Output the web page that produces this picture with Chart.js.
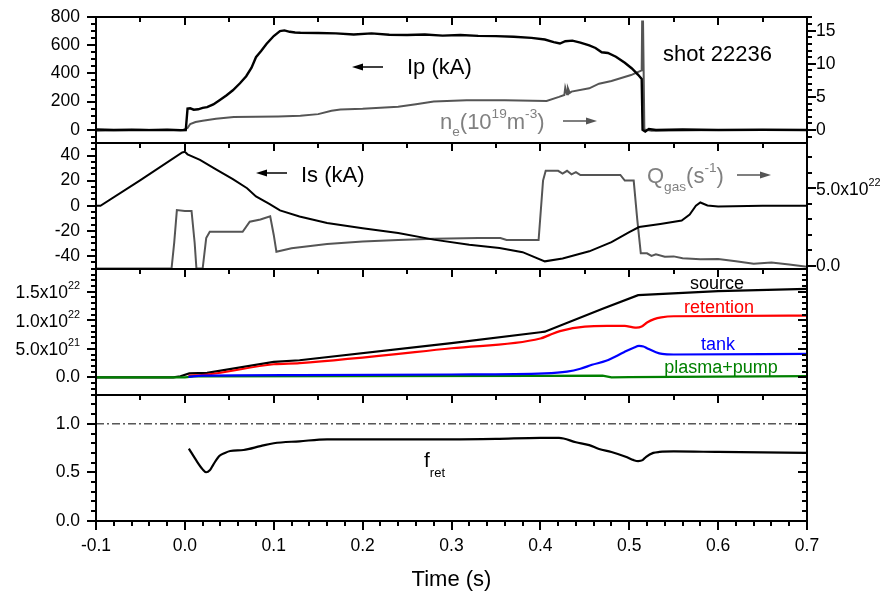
<!DOCTYPE html>
<html>
<head>
<meta charset="utf-8">
<script src="https://cdn.jsdelivr.net/npm/chart.js@4.4.0/dist/chart.umd.min.js"></script>
<style>
  body { margin: 0; background: #fff; }
  #wrap { position: relative; width: 889px; height: 598px; }
  #wrap canvas { position: absolute; left: 0; top: 0; }
</style>
</head>
<body>
<div id="wrap">
  <canvas id="p1" width="889" height="598"></canvas>
  <canvas id="p2" width="889" height="598"></canvas>
  <canvas id="p3" width="889" height="598"></canvas>
  <canvas id="p4" width="889" height="598"></canvas>
  <canvas id="ov" width="889" height="598"></canvas>
</div>
<script>
// ---- panel 1: plasma current Ip (kA) and density ne (1e19 m^-3)
const ipT = [-0.1, -0.08, -0.06, -0.04, -0.02, -0.005, 0.001, 0.003, 0.006, 0.01, 0.015, 0.02, 0.025,
  0.032, 0.039, 0.047, 0.054, 0.062, 0.069, 0.075, 0.08, 0.086, 0.092, 0.1, 0.107, 0.112, 0.118, 0.124, 0.13,
  0.15, 0.17, 0.19, 0.21, 0.23, 0.25, 0.27, 0.29, 0.31, 0.33, 0.35, 0.37, 0.39,
  0.405, 0.415, 0.422, 0.428, 0.436, 0.445, 0.455, 0.462, 0.469, 0.476,
  0.485, 0.495, 0.503, 0.51, 0.514, 0.515, 0.518, 0.522, 0.53, 0.56, 0.6, 0.65, 0.7];
const ipV = [2, -2, 0, -3, 0, -4, -3, 150, 152, 142, 145, 155, 160,
  180, 210, 245, 280, 330, 380, 440, 515, 560, 610, 665, 700, 705, 695, 690, 688,
  686, 684, 676, 684, 674, 672, 676, 668, 672, 666, 664, 660, 652,
  640, 622, 612, 628, 632, 618, 598, 580, 550, 545,
  518, 475, 435, 390, 360, 0, -12, 5, -2, 2, -2, 0, -2];

const neT = [-0.1, -0.05, -0.002, 0.003, 0.006, 0.012, 0.02, 0.035, 0.055, 0.08, 0.105, 0.13, 0.15, 0.165, 0.175,
  0.2, 0.24, 0.26, 0.28, 0.317, 0.36, 0.407, 0.421, 0.427, 0.428, 0.43, 0.431, 0.433, 0.435, 0.455,
  0.466, 0.48, 0.502, 0.514, 0.5145, 0.5155, 0.517, 0.525, 0.6, 0.7];
const neV = [-0.1, 0.05, 0, 0.3, 0.9, 1.2, 1.4, 1.7, 1.95, 2.0, 2.05, 2.15, 2.4, 2.9, 3.1,
  3.2, 3.5, 3.9, 4.3, 4.5, 4.5, 4.4, 5.0, 5.3, 6.4, 5.4, 6.3, 5.6, 5.8, 6.3,
  7.0, 7.4, 8.3, 9.0, 16.4, 16.4, 0.1, -0.1, 0, 0];

// ---- panel 2: Is (kA) and gas flow Qgas (1e22 s^-1)
const isT = [-0.1, -0.095, -0.05, -0.003, 0.0, 0.003, 0.017, 0.035, 0.054, 0.07, 0.08, 0.095, 0.107, 0.129, 0.16,
  0.2, 0.24, 0.28, 0.32, 0.354, 0.38, 0.405, 0.425, 0.455, 0.48, 0.5, 0.511, 0.535, 0.559, 0.568,
  0.575, 0.58, 0.588, 0.6, 0.65, 0.7];
const isV = [0, 0, 20.4, 42.5, 43, 41, 36.6, 29, 21.2, 14, 7.4, 1.5, -3.7, -8.5, -13.8,
  -18, -21.7, -27, -31, -33.6, -37, -44.3, -42, -36.3, -29, -21, -17, -14.5, -11.7, -7,
  0, 2.6, 0.2, -0.5, 0, 0];

const qgasT = [-0.1, -0.015, -0.012, -0.009, 0.0, 0.0075, 0.011, 0.013, 0.02, 0.024,
  0.028, 0.065, 0.073, 0.085, 0.096, 0.1, 0.103, 0.12, 0.16, 0.2,
  0.24, 0.28, 0.33, 0.355, 0.362, 0.398, 0.403, 0.406, 0.42, 0.425,
  0.43, 0.435, 0.44, 0.445, 0.46, 0.49, 0.495, 0.505, 0.509, 0.513,
  0.52, 0.525, 0.53, 0.54, 0.55, 0.56, 0.58, 0.6, 0.62, 0.64, 0.66, 0.68, 0.7];
const qgasV = [-0.16, -0.16, 1.5, 3.6, 3.55, 3.55, 1.5, -0.16, -0.16, 1.8,
  2.2, 2.2, 2.85, 3.0, 3.2, 2.0, 0.92, 1.15, 1.42, 1.58,
  1.67, 1.75, 1.8, 1.8, 1.67, 1.67, 5.5, 6.13, 6.13, 5.95,
  6.13, 5.9, 6.05, 5.86, 5.86, 5.86, 5.5, 5.5, 3.0, 0.82,
  0.82, 0.65, 0.75, 0.6, 0.62, 0.5, 0.43, 0.45, 0.3, 0.15, 0.22, 0.1, -0.04];

// ---- panel 3: particle balance (1e22)
const srcT = [-0.1, -0.013, -0.005, 0.005, 0.025, 0.1, 0.129, 0.3, 0.4, 0.405, 0.47, 0.51, 0.6, 0.7];
const srcV = [0, 0, 0.02, 0.07, 0.08, 0.27, 0.3, 0.6, 0.79, 0.8, 1.2, 1.44, 1.51, 1.55];
const retT = [0.004, 0.025, 0.1, 0.129, 0.3, 0.4, 0.41, 0.422, 0.45, 0.475, 0.495, 0.503, 0.508, 0.514, 0.52, 0.528, 0.536, 0.55, 0.7];
const retV = [0.03, 0.05, 0.23, 0.25, 0.51, 0.68, 0.74, 0.81, 0.89, 0.9, 0.9, 0.88, 0.87, 0.89, 0.96, 1.02, 1.05, 1.07, 1.08];
const tankT = [0.004, 0.02, 0.129, 0.3, 0.405, 0.43, 0.445, 0.458, 0.474, 0.494, 0.505, 0.511, 0.516, 0.52, 0.53, 0.537, 0.55, 0.7];
const tankV = [0.01, 0.03, 0.04, 0.05, 0.07, 0.1, 0.15, 0.22, 0.29, 0.44, 0.52, 0.55, 0.54, 0.51, 0.44, 0.41, 0.40, 0.41];
const ppT = [-0.1, 0.0, 0.01, 0.2, 0.4, 0.47, 0.48, 0.5, 0.7];
const ppV = [0, 0, 0.015, 0.02, 0.025, 0.03, 0.0, 0.005, 0.02];

// ---- panel 4: retention fraction
const fretT = [0.0045, 0.013, 0.02, 0.024, 0.028, 0.032, 0.039, 0.045, 0.051, 0.066, 0.085, 0.1, 0.129, 0.16, 0.2, 0.24,
  0.3, 0.35, 0.4, 0.421, 0.44, 0.455, 0.466, 0.48, 0.496, 0.505, 0.51, 0.515, 0.519, 0.527, 0.534, 0.55, 0.6, 0.7];
const fretV = [0.744, 0.62, 0.53, 0.5, 0.52, 0.58, 0.67, 0.7, 0.72, 0.73, 0.77, 0.8, 0.82, 0.84, 0.84, 0.84,
  0.84, 0.845, 0.855, 0.855, 0.81, 0.78, 0.74, 0.71, 0.66, 0.625, 0.615, 0.625, 0.66, 0.7, 0.71, 0.715, 0.71, 0.7];
const fretRef = 1.0;

// ---- axes
const xTicks = [-0.1, 0, 0.1, 0.2, 0.3, 0.4, 0.5, 0.6, 0.7];
const xLabels = ['-0.1', '0.0', '0.1', '0.2', '0.3', '0.4', '0.5', '0.6', '0.7'];
const p1Ticks = [0, 200, 400, 600, 800];
const p1Labels = ['0', '200', '400', '600', '800'];
const p1RTicks = [0, 5, 10, 15];
const p1RLabels = ['0', '5', '10', '15'];
const p2Ticks = [-40, -20, 0, 20, 40];
const p2Labels = ['-40', '-20', '0', '20', '40'];
const p2RTicks = [0, 5];
const p2RLabels = ['0.0', '5.0x10^22'];
const p3Ticks = [0, 0.5, 1.0, 1.5];
const p3Labels = ['0.0', '5.0x10^21', '1.0x10^22', '1.5x10^22'];
const p4Ticks = [0, 0.5, 1.0];
const p4Labels = ['0.0', '0.5', '1.0'];

const FONT = '"Liberation Sans", Arial, Helvetica, sans-serif';
const TICK_SIZE = 17.5;
const GRAY_LINE = '#555555';
const GRAY_TEXT = '#808080';
const X_MIN = -0.1, X_MAX = 0.7;

const pts = (t, v) => t.map((x, i) => ({x, y: v[i]}));

function stepVals(min, max, step) {
  const out = [];
  for (let k = Math.ceil(min / step - 1e-6); k * step <= max + 1e-9; k++) out.push(k * step);
  return out;
}

// text with sub/superscripts: parts = [[text, kind, shift?]] kind 1 sup, -1 sub
function drawRich(ctx, parts, x, y, size, color, align) {
  const small = size * 0.62;
  const fontOf = k => (k ? small : size) + 'px ' + FONT;
  let w = 0;
  parts.forEach(([t, k]) => { ctx.font = fontOf(k); w += ctx.measureText(t).width; });
  let cx = align === 'right' ? x - w : align === 'center' ? x - w / 2 : x;
  ctx.fillStyle = color;
  ctx.textAlign = 'left';
  ctx.textBaseline = 'alphabetic';
  parts.forEach(([t, k, sh]) => {
    ctx.font = fontOf(k);
    const dy = sh !== undefined ? sh : (k > 0 ? -size * 0.5 : k < 0 ? size * 0.34 : 0);
    ctx.fillText(t, cx, y + dy);
    cx += ctx.measureText(t).width;
  });
}

function arrow(ctx, x1, y, x2, color) {
  const dir = Math.sign(x2 - x1);
  ctx.strokeStyle = color; ctx.fillStyle = color; ctx.lineWidth = 1.5;
  ctx.beginPath(); ctx.moveTo(x1, y); ctx.lineTo(x2 - dir * 8, y); ctx.stroke();
  ctx.beginPath(); ctx.moveTo(x2, y); ctx.lineTo(x2 - dir * 11, y - 3.5); ctx.lineTo(x2 - dir * 11, y + 3.5);
  ctx.closePath(); ctx.fill();
}

// frame, tick marks and annotations, drawn on the overlay from each chart's scales
function drawFrame(ctx, chart, o) {
  const a = chart.chartArea, scales = chart.scales;
  const x = scales.x, y = scales.y, y2 = scales.y2;
  ctx.save();
  ctx.fillStyle = '#000';
  // ticks as filled 2px bars, len > 0 points down / right
  const hT = (vals, edge, len) => vals.forEach(v => {
    const px = Math.round(x.getPixelForValue(v));
    if (Number.isFinite(px)) ctx.fillRect(px - 1, len > 0 ? edge : edge + len, 2, Math.abs(len));
  });
  const vT = (s, vals, edge, len) => vals.forEach(v => {
    const py = Math.round(s.getPixelForValue(v));
    if (Number.isFinite(py)) ctx.fillRect(len > 0 ? edge : edge + len, py - 1, Math.abs(len), 2);
  });
  const L = Math.round(a.left), R = Math.round(a.right), T = Math.round(a.top), B = Math.round(a.bottom);
  hT(stepVals(X_MIN, X_MAX, 0.05), T, 5);
  hT(xTicks, T, 8);
  if (o.bottom) {
    hT(stepVals(X_MIN, X_MAX, 0.02), B, 5);
    hT(xTicks, B, 9);
  }
  const yMinor = stepVals(y.min, y.max, o.minor);
  vT(y, yMinor, L, -5);
  vT(y, o.major, L, -9);
  if (o.mirror) {
    vT(y, yMinor, R, -5);
    vT(y, o.major, R, -9);
  }
  if (y2) {
    vT(y2, stepVals(y2.min, y2.max, o.rMinor), R, 5);
    vT(y2, o.rMajor, R, 9);
  }
  // frame
  ctx.fillRect(L - 1, T - 1, R - L + 2, 2);
  ctx.fillRect(L - 1, B - 1, R - L + 2, 2);
  ctx.fillRect(L - 1, T - 1, 2, B - T + 2);
  ctx.fillRect(R - 1, T - 1, 2, B - T + 2);

  // tick labels carrying an exponent
  (o.rich || []).forEach(r => {
    const s = scales[r.scale];
    r.ticks.forEach((v, i) => {
      const lab = r.labels[i];
      if (!lab.includes('^')) return;
      const [base, exp] = lab.split('^');
      const py = s.getPixelForValue(v) + TICK_SIZE * 0.36;
      if (r.scale === 'y') drawRich(ctx, [[base, 0], [exp, 1]], a.left - 16, py, TICK_SIZE, '#000', 'right');
      else drawRich(ctx, [[base, 0], [exp, 1]], a.right + 9, py, TICK_SIZE, '#000', 'left');
    });
  });
  (o.notes || []).forEach(n => drawRich(ctx, n.parts, n.x, n.y, n.size, n.color, n.align));
  (o.arrows || []).forEach(ar => arrow(ctx, ar.x1, ar.y, ar.x2, ar.color));
  ctx.restore();
}

function noPad(s) { s.paddingTop = 0; s.paddingBottom = 0; s.paddingLeft = 0; s.paddingRight = 0; }

function yScale(pos, min, max, ticks, labels, width) {
  return {
    type: 'linear', position: pos, min, max,
    afterBuildTicks: s => { s.ticks = ticks.map(v => ({value: v})); },
    afterFit: s => { s.width = width; noPad(s); },
    grid: {display: false, drawTicks: false}, border: {display: false},
    ticks: {
      autoSkip: false, padding: pos === 'left' ? 16 : 9, color: '#000',
      font: {family: FONT, size: TICK_SIZE},
      callback: (v, i) => labels[i].includes('^') ? '' : labels[i]
    }
  };
}

const hiddenX = {type: 'linear', min: X_MIN, max: X_MAX, display: false};

function line(data, color, width, yAxisID, extra) {
  return Object.assign({data, borderColor: color, borderWidth: width, yAxisID: yAxisID || 'y',
    pointRadius: 0, tension: 0, fill: false}, extra || {});
}

function panel(id, padding, datasets, scales) {
  return new Chart(document.getElementById(id), {
    type: 'line',
    data: {datasets},
    options: {
      responsive: false, animation: false, devicePixelRatio: 1,
      layout: {padding},
      plugins: {legend: {display: false}, tooltip: {enabled: false}},
      scales
    }
  });
}

// Panel 1
const c1 = panel('p1', {top: 17, bottom: 455, left: 0, right: 0},
  [
    line(pts(ipT, ipV), '#000', 2.4, 'y', {order: 0}),
    line(pts(neT, neV), GRAY_LINE, 2, 'y2', {order: 1})
  ],
  {
    x: hiddenX,
    y: yScale('left', -94, 800, p1Ticks, p1Labels, 96),
    y2: yScale('right', -1.96, 17.07, p1RTicks, p1RLabels, 82)
  });

// Panel 2
const c2 = panel('p2', {top: 143, bottom: 329.5, left: 0, right: 0},
  [
    line(pts(isT, isV), '#000', 2, 'y', {order: 0}),
    line(pts(qgasT, qgasV), GRAY_LINE, 2, 'y2', {order: 1})
  ],
  {
    x: hiddenX,
    y: yScale('left', -50, 50, p2Ticks, p2Labels, 96),
    y2: yScale('right', -0.16, 7.92, p2RTicks, p2RLabels, 82)
  });

// Panel 3
const c3 = panel('p3', {top: 268.5, bottom: 203.5, left: 0, right: 82},
  [
    line(pts(tankT, tankV), '#0000ff', 2.2, 'y', {order: 0, cubicInterpolationMode: 'monotone'}),
    line(pts(ppT, ppV), '#008000', 2.2, 'y', {order: 1}),
    line(pts(retT, retV), '#ff0000', 2.2, 'y', {order: 2, cubicInterpolationMode: 'monotone'}),
    line(pts(srcT, srcV), '#000', 2.2, 'y', {order: 3})
  ],
  {
    x: hiddenX,
    y: yScale('left', -0.3, 1.906, p3Ticks, p3Labels, 96)
  });

// Panel 4
const c4 = panel('p4', {top: 394.5, bottom: 0, left: 0, right: 82},
  [
    line(pts(fretT, fretV), '#000', 2.2, 'y', {cubicInterpolationMode: 'monotone'}),
    line(pts([X_MIN, X_MAX], [fretRef, fretRef]), '#000', 1, 'y', {borderDash: [8, 3, 2, 3]})
  ],
  {
    x: {
      type: 'linear', min: X_MIN, max: X_MAX, position: 'bottom',
      afterBuildTicks: s => { s.ticks = xTicks.map(v => ({value: v})); },
      afterFit: s => { s.height = 77.3; noPad(s); },
      grid: {display: false, drawTicks: false}, border: {display: false},
      ticks: {autoSkip: false, maxRotation: 0, padding: 15, color: '#000',
        font: {family: FONT, size: TICK_SIZE}, callback: (v, i) => xLabels[i]},
      title: {display: true, text: 'Time (s)', color: '#000',
        font: {family: FONT, size: 22}, padding: {top: 0, bottom: 5}}
    },
    y: yScale('left', 0, 1.303, p4Ticks, p4Labels, 96)
  });

// overlay: frames, ticks, exponent labels, annotations
const ov = document.getElementById('ov').getContext('2d');
drawFrame(ov, c1, {
  major: p1Ticks, minor: 50, rMajor: p1RTicks, rMinor: 1,
  notes: [
    {parts: [['shot 22236', 0]], x: 663, y: 61, size: 22, color: '#000'},
    {parts: [['Ip (kA)', 0]], x: 407, y: 74, size: 22, color: '#000'},
    {parts: [['n', 0], ['e', -1], ['(10', 0], ['19', 1], ['m', 0], ['-3', 1], [')', 0]], x: 440, y: 129, size: 22, color: GRAY_TEXT}
  ],
  arrows: [
    {x1: 383, x2: 352, y: 67, color: '#000'},
    {x1: 563, x2: 597, y: 121, color: GRAY_LINE}
  ]
});
drawFrame(ov, c2, {
  major: p2Ticks, minor: 5, rMajor: p2RTicks, rMinor: 1,
  rich: [{scale: 'y2', ticks: p2RTicks, labels: p2RLabels}],
  notes: [
    {parts: [['Is (kA)', 0]], x: 301, y: 182, size: 22, color: '#000'},
    {parts: [['Q', 0], ['gas', -1, 8], ['(s', 0], ['-1', 1], [')', 0]], x: 647, y: 183, size: 22, color: GRAY_TEXT}
  ],
  arrows: [
    {x1: 287, x2: 256, y: 173, color: '#000'},
    {x1: 737, x2: 771, y: 175, color: GRAY_LINE}
  ]
});
drawFrame(ov, c3, {
  major: p3Ticks, minor: 0.1, mirror: true,
  rich: [{scale: 'y', ticks: p3Ticks, labels: p3Labels}],
  notes: [
    {parts: [['source', 0]], x: 717, y: 289, size: 18, color: '#000', align: 'center'},
    {parts: [['retention', 0]], x: 719, y: 313, size: 18, color: '#ff0000', align: 'center'},
    {parts: [['tank', 0]], x: 718, y: 350, size: 18, color: '#0000ff', align: 'center'},
    {parts: [['plasma+pump', 0]], x: 721, y: 373, size: 18, color: '#008000', align: 'center'}
  ]
});
drawFrame(ov, c4, {
  major: p4Ticks, minor: 0.1, mirror: true, bottom: true,
  notes: [
    {parts: [['f', 0], ['ret', -1, 10]], x: 424, y: 467, size: 21, color: '#000'}
  ]
});
</script>
</body>
</html>
